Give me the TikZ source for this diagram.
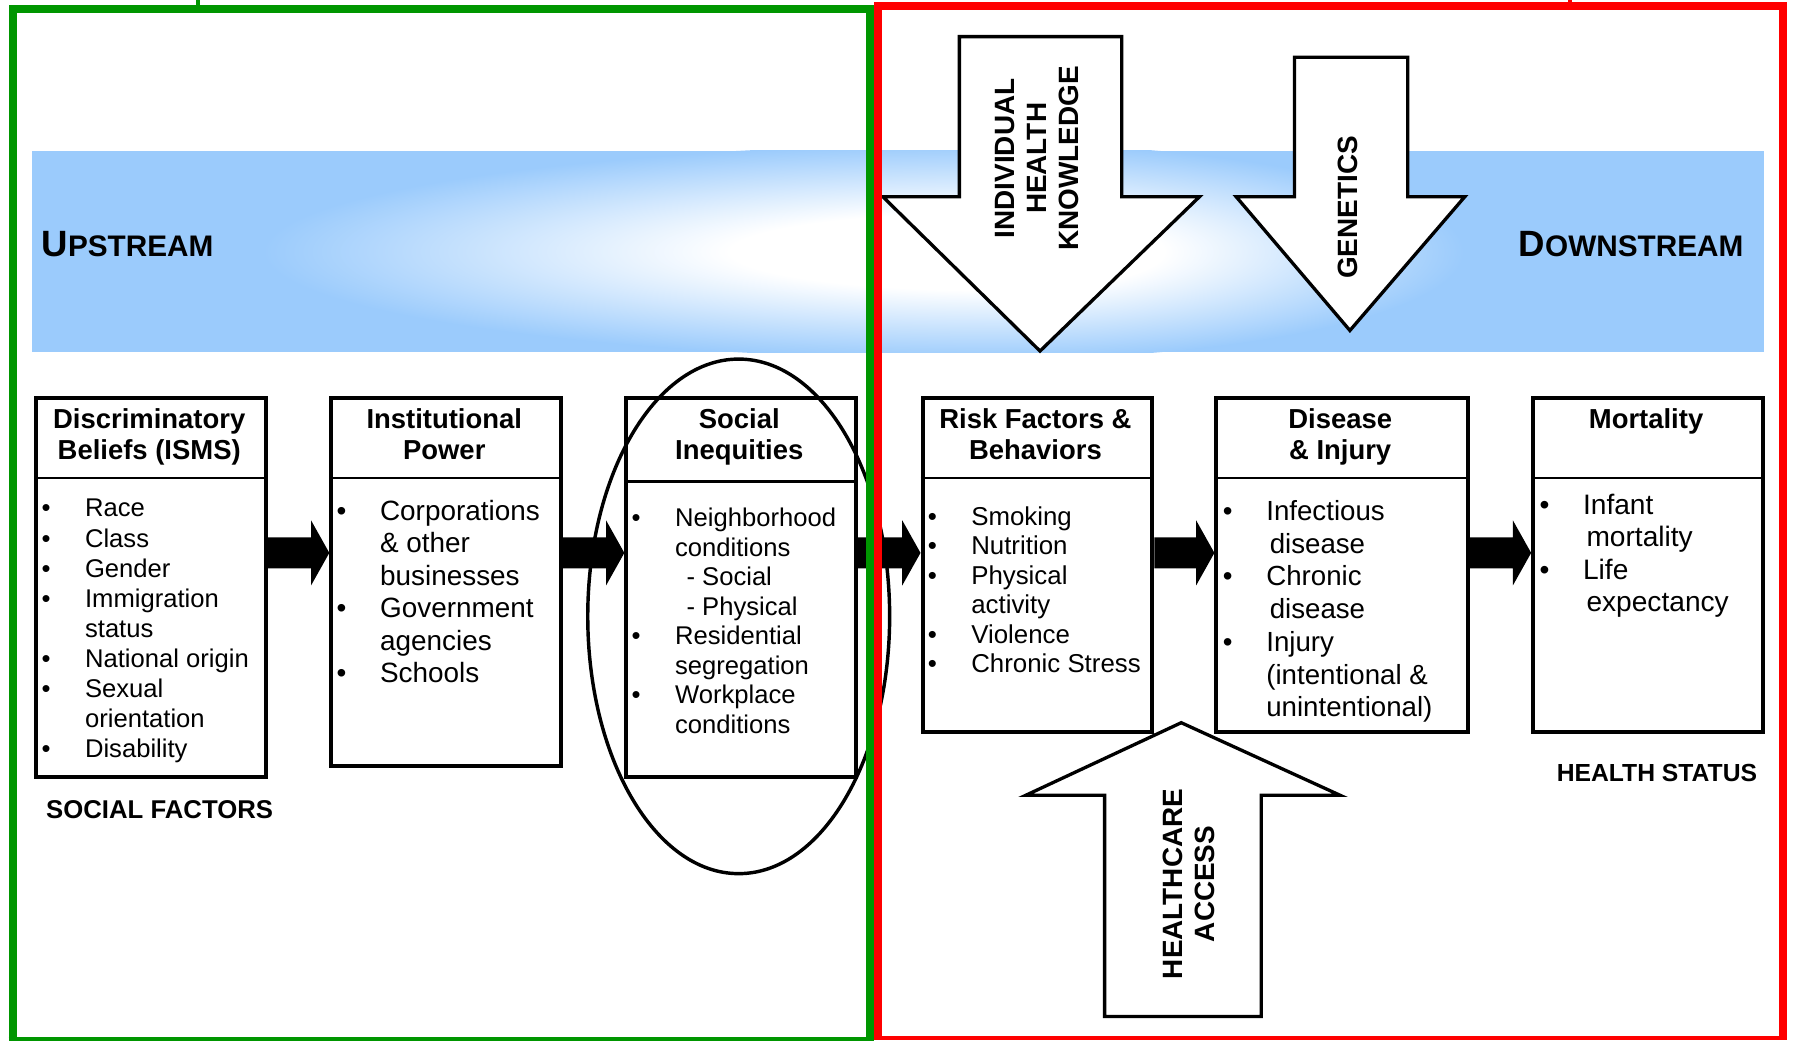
\documentclass[tikz,border=0pt]{standalone}
\usepackage{fontspec}
\setmainfont{Liberation Sans}
\usetikzlibrary{calc}
\definecolor{bandblue}{RGB}{155,203,252}
\definecolor{frgreen}{RGB}{0,150,0}
\definecolor{frred}{RGB}{255,0,0}
\pgfdeclareradialshading{bandshade}{\pgfpoint{0bp}{0bp}}{color(0bp)=(white); color(9bp)=(white); color(25bp)=(bandblue); color(50bp)=(bandblue)}
\newcommand\bl{\makebox[19pt][l]{•}}
\newcommand\ind{\hspace*{19pt}}
\newcommand\fatarrow[2]{\fill let \p1=(#1), \p2=(#2) in (\x1,\y1+6.75pt) -- (\x2-8pt,\y1+6.75pt) -- (\x2-8pt,\y1+14.25pt) -- (\x2,\y1) -- (\x2-8pt,\y1-14.25pt) -- (\x2-8pt,\y1-6.75pt) -- (\x1,\y1-6.75pt) -- cycle;}
\tikzset{
  bx/.style={draw, line width=1.75pt, fill=white, anchor=north west, inner sep=0pt, minimum width=100.5pt, minimum height=146pt},
  div/.style={line width=1.1pt},
  ttl/.style={font=\bfseries\fontsize{12}{13.5}\selectfont, align=center, anchor=base, inner sep=0pt},
  lst/.style={align=left, anchor=base west, inner sep=0pt},
  bigarr/.style={draw, fill=white, line width=1.45pt, line join=miter},
  arrtxt/.style={font=\bfseries\fontsize{12.2}{14}\selectfont, align=center, rotate=90, inner sep=0pt},
  lbl/.style={inner sep=0pt, font=\bfseries}
}
\begin{document}
\begin{tikzpicture}[x=0.5pt,y=-0.5pt]
\useasboundingbox (0,0) rectangle (1568,911);
% band
\fill[bandblue] (28,132) rectangle (1543,308);
\begin{scope}
\clip (28,132) rectangle (870,308);
\shade[shading=bandshade] (870,220) ellipse [x radius=320pt, y radius=47pt];
\end{scope}
\begin{scope}
\clip (870,132) rectangle (1543,308);
\shade[shading=bandshade] (870,220) ellipse [x radius=205pt, y radius=47pt];
\end{scope}
\node[lbl, anchor=base west] (up) at (36,224.5) {{\fontsize{16}{16}\selectfont U}{\fontsize{13}{13}\selectfont PSTREAM}};
\node[lbl, anchor=base east] (down) at (1525,224.5) {{\fontsize{16}{16}\selectfont D}{\fontsize{13}{13}\selectfont OWNSTREAM}};
% boxes
\node[bx, minimum height=166pt] (b1) at (30,346) {};
\node[bx, minimum height=161pt] (b2) at (288,346) {};
\node[bx, minimum height=166pt] (b3) at (546,346) {};
\node[bx] (b4) at (805,346) {};
\node[bx, minimum width=110pt] (b5) at (1062,346) {};
\node[bx] (b6) at (1339,346) {};
\draw[div] ([yshift=-36pt]b1.north west) -- ([yshift=-36pt]b1.north east);
\draw[div] ([yshift=-36pt]b2.north west) -- ([yshift=-36pt]b2.north east);
\draw[div] ([yshift=-37.5pt]b3.north west) -- ([yshift=-37.5pt]b3.north east);
\draw[div] ([yshift=-36pt]b4.north west) -- ([yshift=-36pt]b4.north east);
\draw[div] ([yshift=-36pt]b5.north west) -- ([yshift=-36pt]b5.north east);
\draw[div] ([yshift=-36pt]b6.north west) -- ([yshift=-36pt]b6.north east);
% titles (anchor = baseline of last line)
\node[ttl] (t1) at (130.5,402) {Discriminatory\\Beliefs (ISMS)};
\node[ttl] (t2) at (388.5,402) {Institutional\\Power};
\node[ttl] (t3) at (646.5,402) {Social\\Inequities};
\node[ttl] (t4) at (905.5,402) {Risk Factors \&\\Behaviors};
\node[ttl] (t5) at (1172,402) {Disease\\\& Injury};
\node[ttl] (t6) at (1439.5,375) {Mortality};
% lists (anchor = baseline of last line)
\node[lst, font=\fontsize{11.2}{13.15}\selectfont] (l1) at (36,662.5) {\bl Race\\\bl Class\\\bl Gender\\\bl Immigration\\\ind status\\\bl National origin\\\bl Sexual\\\ind orientation\\\bl Disability};
\node[lst, font=\fontsize{12.2}{14.2}\selectfont] (l2) at (294,597) {\bl Corporations\\\ind\& other\\\ind businesses\\\bl Government\\\ind agencies\\\bl Schools};
\node[lst, font=\fontsize{11.2}{12.93}\selectfont] (l3) at (552,641.5) {\bl Neighborhood\\\ind conditions\\\ind\hspace*{5pt}- Social\\\ind\hspace*{5pt}- Physical\\\bl Residential\\\ind segregation\\\bl Workplace\\\ind conditions};
\node[lst, font=\fontsize{11.3}{12.9}\selectfont] (l4) at (811,588.5) {\bl Smoking\\\bl Nutrition\\\bl Physical\\\ind activity\\\bl Violence\\\bl Chronic Stress};
\node[lst, font=\fontsize{12.1}{14.33}\selectfont] (l5) at (1069,627) {\bl Infectious\\\ind\hspace*{1.5pt}disease\\\bl Chronic\\\ind\hspace*{1.5pt}disease\\\bl Injury\\\ind(intentional \&\\\ind unintentional)};
\node[lst, font=\fontsize{12.3}{14.17}\selectfont] (l6) at (1346,535) {\bl Infant\\\ind\hspace*{1.5pt}mortality\\\bl Life\\\ind\hspace*{1.5pt}expectancy};
% fat connectors
\coordinate (arow) at (0,483.5);
\fatarrow{b1.east |- arow}{b2.west |- arow}
\fatarrow{b2.east |- arow}{b3.west |- arow}
\fatarrow{b3.east |- arow}{b4.west |- arow}
\fatarrow{b4.east |- arow}{b5.west |- arow}
\fatarrow{b5.east |- arow}{b6.west |- arow}
% labels
\node[lbl, anchor=base west, font=\bfseries\fontsize{11.25}{13}\selectfont] (sf) at (40,716) {SOCIAL FACTORS};
\node[lbl, anchor=base east, font=\bfseries\fontsize{10.8}{13}\selectfont] (hs) at (1537,683.5) {HEALTH STATUS};
% big arrows
\draw[bigarr] (839,32) -- (981,32) -- (981,172) -- (1049,172) -- (909.5,307) -- (772,172) -- (839,172) -- cycle;
\node[arrtxt] (ihk) at (907,138.5) {INDIVIDUAL\\HEALTH\\KNOWLEDGE};
\draw[bigarr] (1132,50) -- (1231,50) -- (1231,172) -- (1281,172) -- (1180.5,289) -- (1081,172) -- (1132,172) -- cycle;
\node[arrtxt] (gen) at (1179,181.5) {GENETICS};
\draw[bigarr] (1033,632) -- (1172,695.5) -- (1103,695.5) -- (1103,889) -- (966,889) -- (966,695.5) -- (897,695.5) -- cycle;
\node[arrtxt] (hca) at (1039.5,773) {HEALTHCARE\\ACCESS};
% ellipse
\draw[line width=1.5pt] (646,539) ellipse [x radius=66pt, y radius=112.5pt];
% frames
\draw[frgreen, line width=3.5pt] (11,909) -- (11,8) -- (761,8) -- (761,909);
\draw[frgreen, line width=1.75pt] (7.5,909) -- (764.5,909);
\draw[frgreen, line width=1.5pt] (173,0) -- (173,8);
\draw[frred, line width=3.5pt] (768,908) -- (768,5) -- (1559.5,5) -- (1559.5,908);
\draw[frred, line width=1.75pt] (764.5,908) -- (1563,908);
\draw[frred, line width=1.5pt] (1373,0) -- (1373,5);
\end{tikzpicture}
\end{document}
